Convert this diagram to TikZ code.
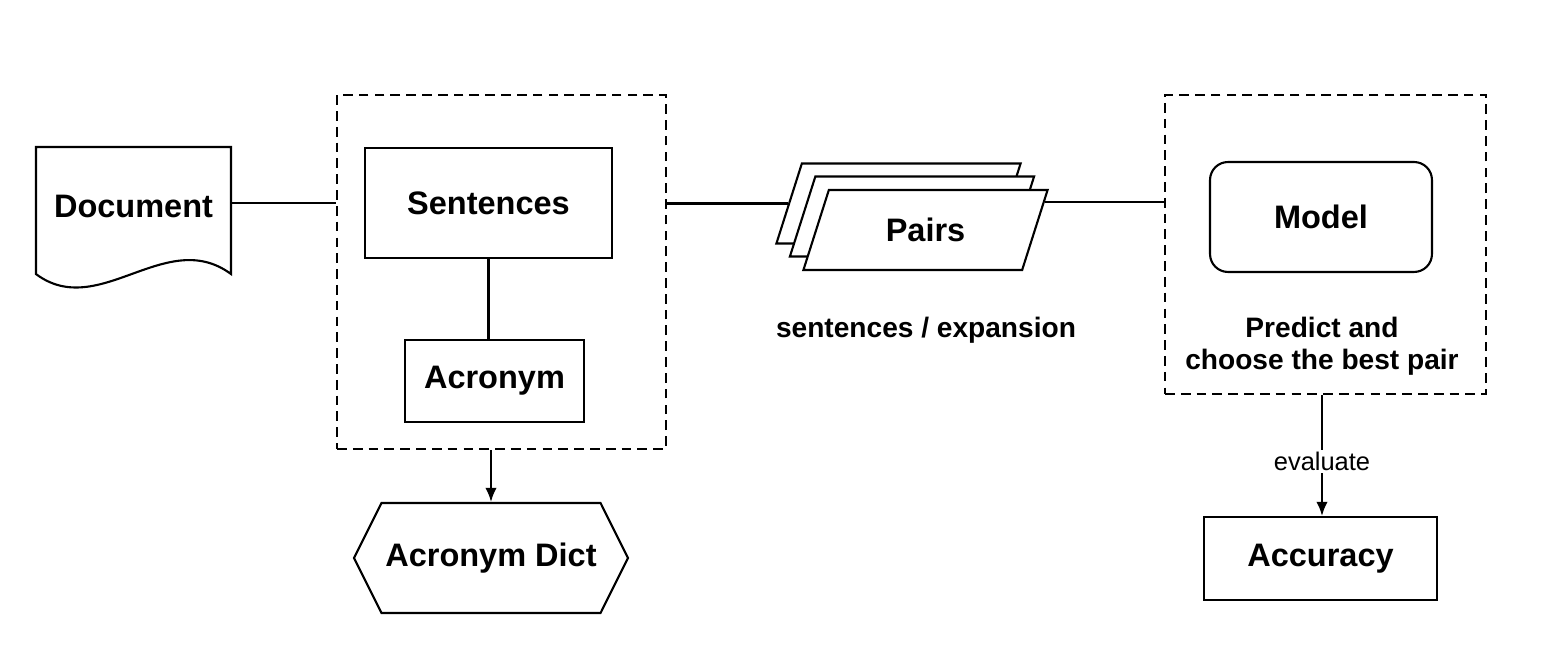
\documentclass[tikz,border=0pt]{standalone}
\usepackage{fontspec}
\setmainfont{Liberation Sans}
\usetikzlibrary{shapes.geometric,shapes.symbols,calc,arrows.meta}

\begin{document}
\begin{tikzpicture}[x=0.02cm,y=-0.02cm,line width=1.2pt,
    box/.style={draw,fill=white,font=\fontsize{18.5}{22}\selectfont\bfseries,inner sep=0pt},
    frame/.style={draw,dash pattern=on 5.5pt off 3.5pt,minimum width=#1},
    pair/.style={box,inner sep=3pt,trapezium,trapezium stretches=true,trapezium left angle=71,trapezium right angle=109,minimum width=4.9cm,minimum height=1.6cm},
    hexa/.style={box,signal,signal to=west and east,signal pointer angle=127,minimum width=5.48cm,minimum height=2.2cm},
    note/.style={font=\fontsize{16}{18.5}\selectfont\bfseries,align=center,inner sep=0pt},
    tip/.style={-{Latex[length=8pt,width=6.5pt]}}]
    \useasboundingbox (0,0) rectangle (1553,648);
    \node[frame=6.58cm,minimum height=7.08cm] (fr1) at (501.5,272) {};
    \node[frame=6.42cm,minimum height=5.98cm] (fr2) at (1325.5,244.5) {};
    \node[box,draw=none,fill=none,minimum width=3.86cm,minimum height=2.5cm] (doc) at (133.5,210.5) {\raisebox{5pt}{Document}};
    \draw (doc.north west)--(doc.north east)--(doc.south east) .. controls ($(doc.south east)+(-65,-48)$) and ($(doc.south west)+(63,47)$) .. (doc.south west)--cycle;
    \node[box,minimum width=4.94cm,minimum height=2.2cm] (sent) at (488.5,203) {Sentences};
    \node[box,minimum width=3.58cm,minimum height=1.64cm] (acr) at (494.5,381) {Acronym};
    \node[hexa] (dict) at (491,558) {Acronym Dict};
    \foreach \c [count=\i from 1] in {(898.5,203.5),(912,216.5)} {\node[pair] (p\i) at \c {\phantom{Pairs}};}
    \node[pair] (p3) at (925.5,230) {Pairs};
    \node[note] (pl) at (926,330) {sentences / expansion};
    \node[box,rounded corners=0.36cm,minimum width=4.44cm,minimum height=2.2cm] (model) at (1321,217) {Model};
    \node[note] (pred) at (1322,346) {Predict and\\choose the best pair};
    \node[box,minimum width=4.66cm,minimum height=1.66cm] (acc) at (1320.5,558.5) {Accuracy};
    \draw (sent -| doc.east)--(sent -| fr1.west);
    \draw (sent.south)--(sent.south |- acr.north);
    \draw[tip] (dict.north |- fr1.south)--(dict.north);
    \draw (p1.west -| fr1.east)--(p1.west);
    \coordinate (pr) at ($(p3.top right corner)!0.16!(p3.bottom right corner)$);
    \draw (pr)--(pr -| fr2.west);
    \draw[tip] (fr2.south -| 1322,0)--(acc.north -| 1322,0) node[pos=0.55,fill=white,inner sep=1pt,font=\fontsize{14.5}{17}\selectfont] {evaluate};
\end{tikzpicture}
\end{document}
